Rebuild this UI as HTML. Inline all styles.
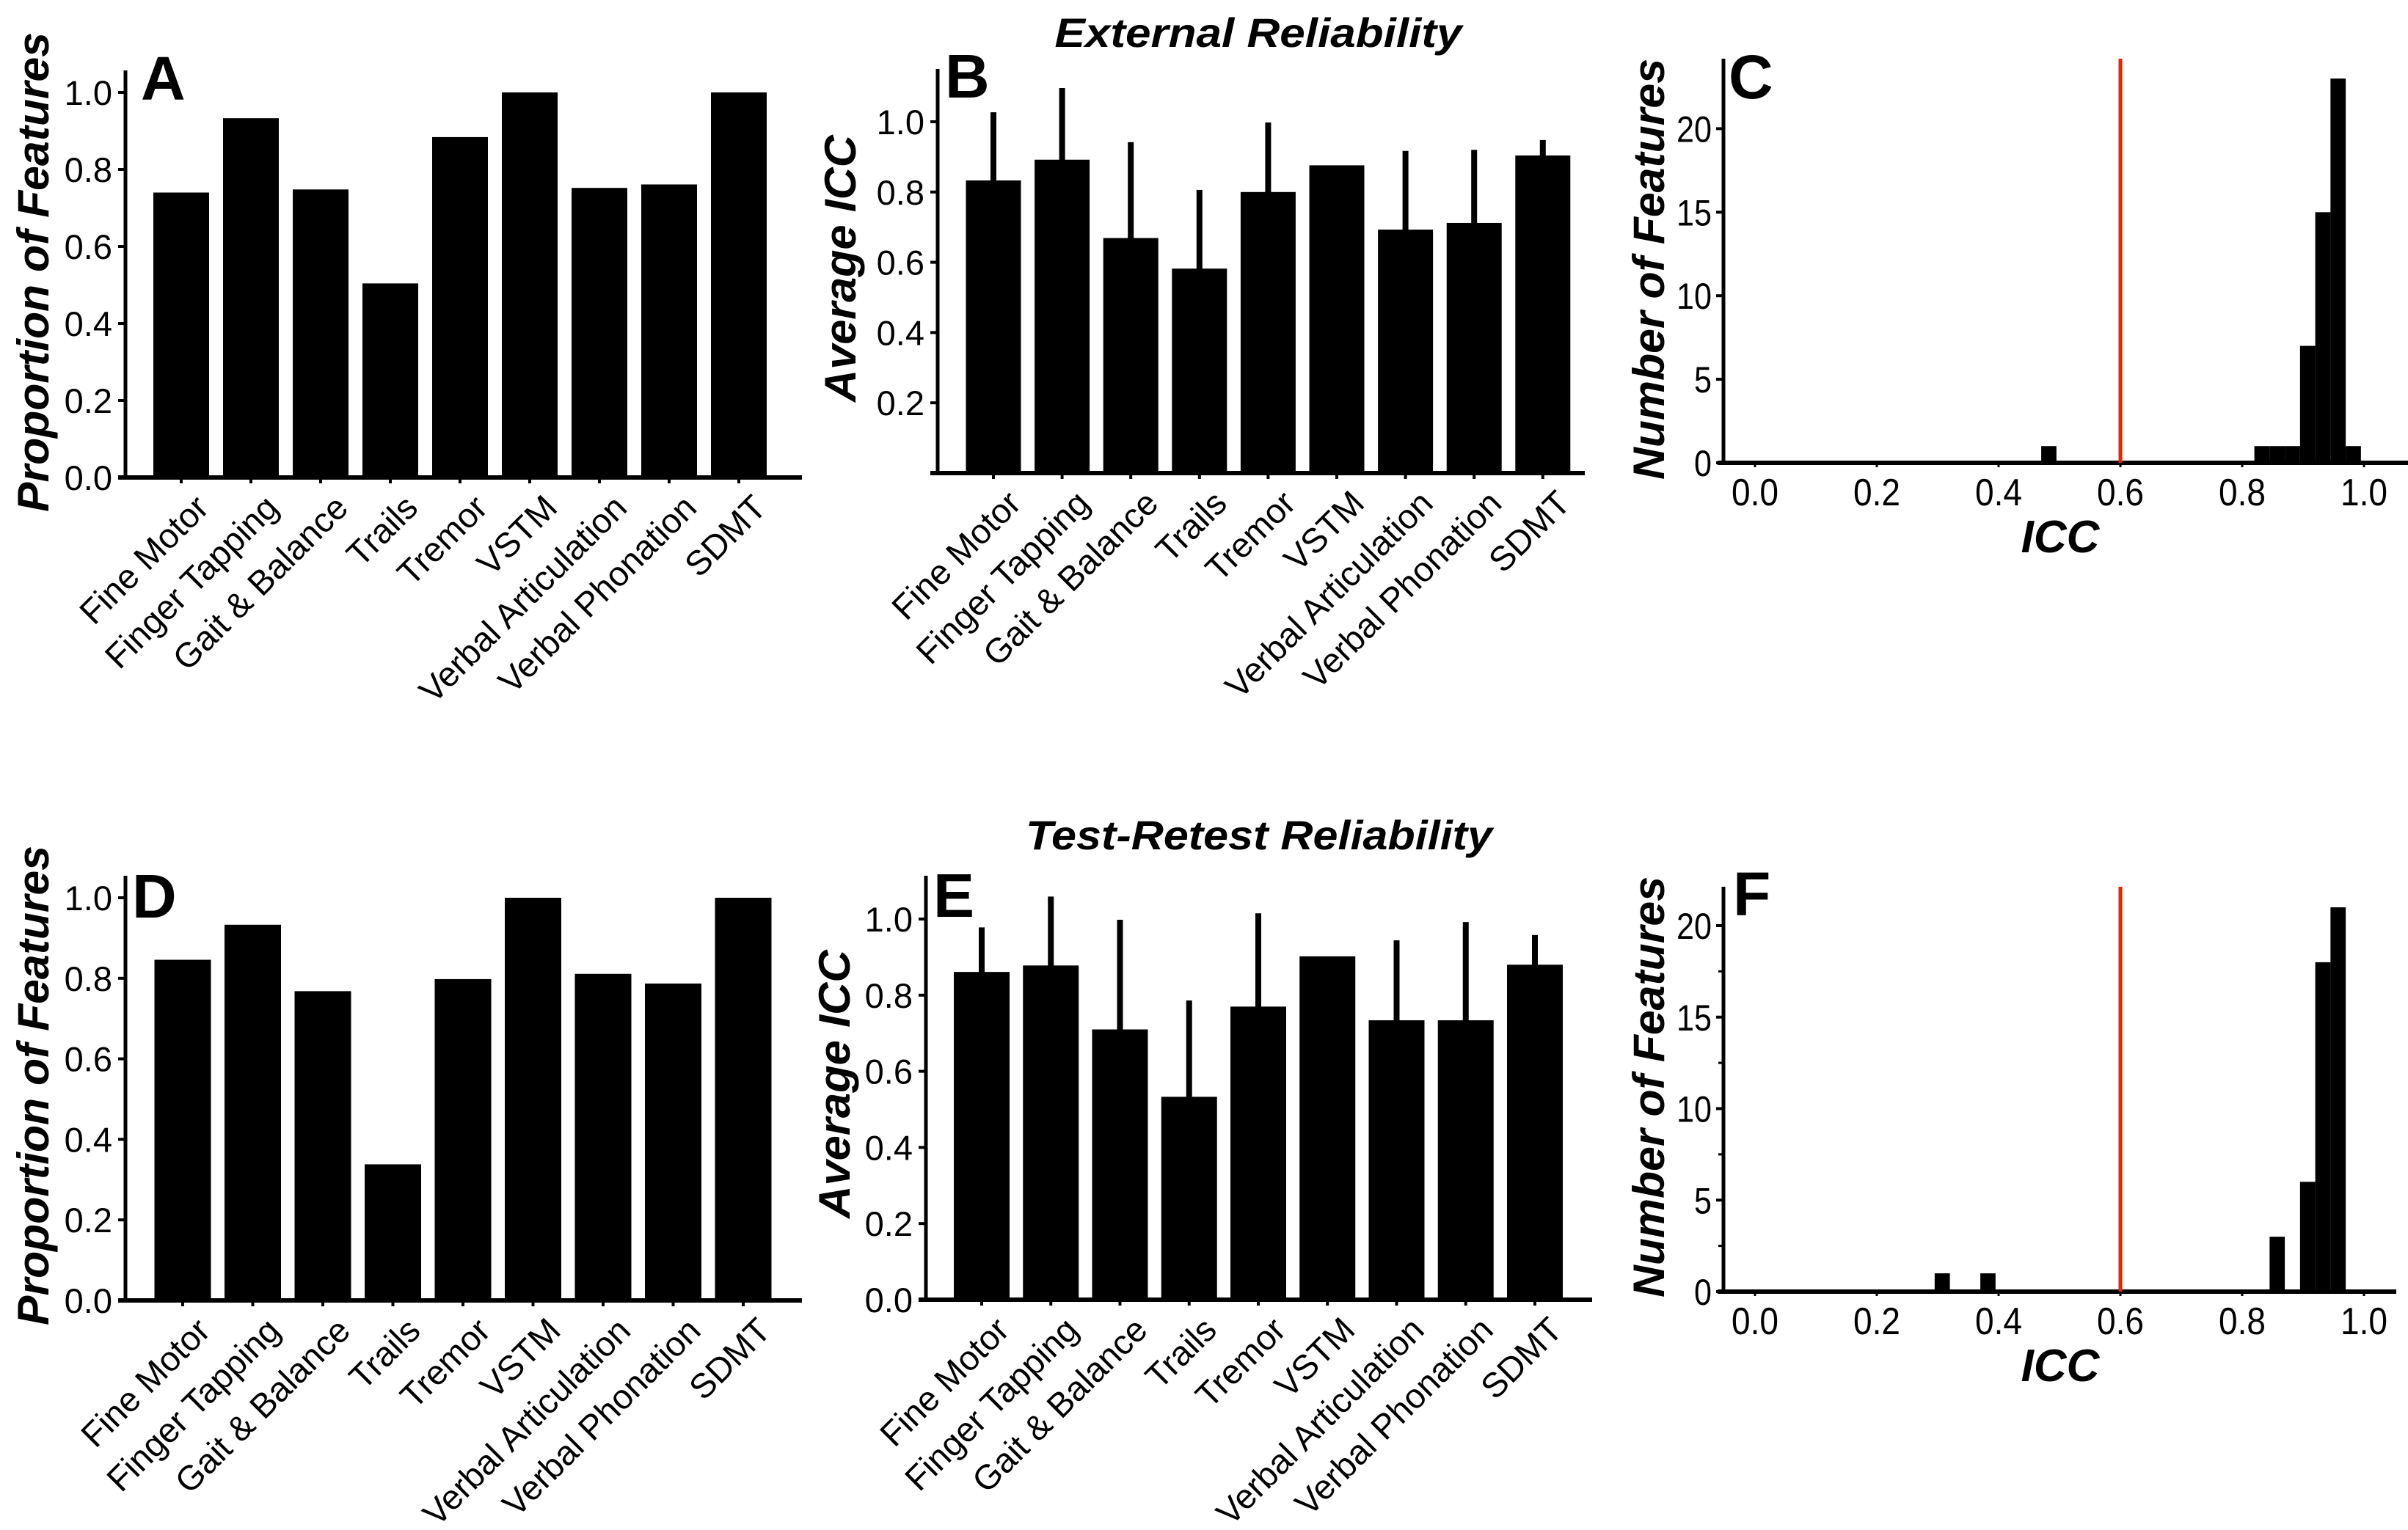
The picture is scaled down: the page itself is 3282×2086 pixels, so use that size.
<!DOCTYPE html>
<html><head><meta charset="utf-8"><style>
html,body{margin:0;padding:0;background:#fff;}
svg{display:block;font-family:"Liberation Sans",Arial,sans-serif;}
</style></head><body>
<svg id="fig" width="3282" height="2086" viewBox="0 0 3282 2086" xmlns="http://www.w3.org/2000/svg">
<rect width="3282" height="2086" fill="#fff"/>
<text x="1715" y="64" text-anchor="middle" font-size="56" font-weight="bold" font-style="italic" textLength="555" lengthAdjust="spacingAndGlyphs">External Reliability</text>
<text x="1716" y="1158" text-anchor="middle" font-size="56" font-weight="bold" font-style="italic" textLength="636" lengthAdjust="spacingAndGlyphs">Test-Retest Reliability</text>
</svg>
<script>
const categories = ["Fine Motor","Finger Tapping","Gait & Balance","Trails","Tremor","VSTM","Verbal Articulation","Verbal Phonation","SDMT"];
const propExternal = [0.74,0.933,0.748,0.504,0.884,1.0,0.752,0.761,1.0];
const iccExternal = [0.833,0.892,0.669,0.582,0.800,0.876,0.693,0.712,0.904];
const iccExternalErr = [1.027,1.096,0.942,0.806,0.998,null,0.917,0.920,0.948];
const propRetest = [0.846,0.933,0.768,0.338,0.798,1.0,0.811,0.787,1.0];
const iccRetest = [0.861,0.878,0.710,0.533,0.770,0.902,0.734,0.734,0.880];
const iccRetestErr = [0.978,1.059,0.998,0.786,1.015,null,0.944,0.992,0.958];
const ticksProp = ["0.0","0.2","0.4","0.6","0.8","1.0"];
const ticksIccB = ["0.2","0.4","0.6","0.8","1.0"];
const ticksIccE = ["0.0","0.2","0.4","0.6","0.8","1.0"];
const histBinLeftC = [0.47,0.82,0.845,0.87,0.895,0.92,0.945,0.97];
const histCountC = [1,1,1,1,7,15,23,1];
const histBinLeftF = [0.295,0.37,0.845,0.895,0.92,0.945];
const histCountF = [1,1,3,6,18,21];
const histBinWidth = 0.025;
const histXTicks = ["0.0","0.2","0.4","0.6","0.8","1.0"];
const histYTicks = ["0","5","10","15","20"];
const thresholdICC = 0.6;

const NS = "http://www.w3.org/2000/svg";
const svg = document.getElementById("fig");
function mk(tag, attrs, parent) {
  const e = document.createElementNS(NS, tag);
  for (const k in attrs) e.setAttribute(k, attrs[k]);
  (parent || svg).appendChild(e);
  return e;
}
function txt(str, attrs, parent) { const t = mk("text", attrs, parent); t.textContent = str; return t; }

function barPanel(o) {
  const g = mk("g", {});
  
  
  const y = v => o.base - v * o.unit;
  const cx = i => o.firstCx + i * o.step;
  const ya = mk("line", {x1:o.ax, y1:o.top, x2:o.ax, y2:o.base+2, stroke:"#000","stroke-width":5}, g);
  
  
  const xa = mk("line", {x1:o.ax-10, y1:o.base, x2:o.axEnd, y2:o.base, stroke:"#000","stroke-width":6}, g);
  
  
  o.ticks.forEach(t => {
    const v = parseFloat(t);
    mk("line", {x1:o.ax-10, y1:y(v), x2:o.ax, y2:y(v), stroke:"#000","stroke-width":4}, g);
    const l = txt(t, {x:o.ax-18, y:y(v)+17, "text-anchor":"end","font-size":47}, g);
    
    
  });
  o.values.forEach((v, i) => {
    const x = cx(i);
    if (o.errs && o.errs[i] != null) {
      const e = mk("rect", {x:x-4, y:y(o.errs[i]), width:8, height:y(v)-y(o.errs[i])+2, fill:"#000"}, g);
      
      
    }
    const b = mk("rect", {x:x-o.bw/2, y:y(v), width:o.bw, height:o.base-y(v), fill:"#000"}, g);
    
    
    mk("line", {x1:x, y1:o.base, x2:x, y2:o.base+8, stroke:"#000","stroke-width":4}, g);
    const l = txt(categories[i], {x:0, y:0, "text-anchor":"end","font-size":47,
      transform:`translate(${x+40},${o.base+44}) rotate(-45)`}, g);
    
    
  });
  const lt = txt(o.letter, {x:o.lx, y:o.ly, "font-size":84, "font-weight":"bold"}, g);
  
  
  const yl = txt(o.ylabel, {x:0, y:0, "text-anchor":"middle","font-size":60,"font-weight":"bold","font-style":"italic",
    textLength:o.ylen, lengthAdjust:"spacingAndGlyphs", transform:`translate(${o.ylx},${o.yly}) rotate(-90)`}, g);
  
  
}

function histPanel(o) {
  const g = mk("g", {});
  
  
  const x = v => o.x0 + v * (o.x1 - o.x0);
  const y = c => o.base - c * o.perCount;
  const ya = mk("line", {x1:o.ax, y1:o.top, x2:o.ax, y2:o.base+2, stroke:"#000","stroke-width":5}, g);
  
  
  const xa = mk("line", {x1:o.ax-8, y1:o.base, x2:o.axEnd, y2:o.base, stroke:"#000","stroke-width":6}, g);
  
  
  histYTicks.forEach(t => {
    const c = parseFloat(t);
    mk("line", {x1:o.ax-10, y1:y(c), x2:o.ax, y2:y(c), stroke:"#000","stroke-width":4}, g);
    const l = txt(t, {x:o.ax-16, y:y(c)+18, "text-anchor":"end","font-size":50,
      textLength:(t.length*24), lengthAdjust:"spacingAndGlyphs"}, g);
    
    
  });
  if (o.minor) {
    for (let c = 2.5; c < 22; c += 5) mk("line", {x1:o.ax-7, y1:y(c), x2:o.ax, y2:y(c), stroke:"#000","stroke-width":3}, g);
  }
  histXTicks.forEach(t => {
    const v = parseFloat(t);
    mk("line", {x1:x(v), y1:o.base, x2:x(v), y2:o.base+6, stroke:"#000","stroke-width":3}, g);
    const l = txt(t, {x:x(v), y:o.base+58, "text-anchor":"middle","font-size":52,
      textLength:64, lengthAdjust:"spacingAndGlyphs"}, g);
    
    
  });
  o.lefts.forEach((lv, i) => {
    const b = mk("rect", {x:x(lv), y:y(o.counts[i]), width:x(lv+histBinWidth)-x(lv), height:o.base-y(o.counts[i]), fill:"#000"}, g);
    
    
  });
  const rl = mk("line", {x1:x(thresholdICC), y1:o.top, x2:x(thresholdICC), y2:o.base, stroke:"#ee2200","stroke-width":5}, g);
  
  
  const lt = txt(o.letter, {x:o.lx, y:o.ly, "font-size":84, "font-weight":"bold"}, g);
  
  
  const xl = txt("ICC", {x:2808, y:o.base+122, "text-anchor":"middle","font-size":62,"font-weight":"bold","font-style":"italic"}, g);
  
  
  const yl = txt("Number of Features", {x:0, y:0, "text-anchor":"middle","font-size":60,"font-weight":"bold","font-style":"italic",
    textLength:574, lengthAdjust:"spacingAndGlyphs", transform:`translate(2268,${o.yly}) rotate(-90)`}, g);
  
  
}

barPanel({name:"panel-a", values:propExternal, ticks:ticksProp, ax:171, axEnd:1093, base:651, unit:525, top:96,
  firstCx:247, step:95, bw:76, letter:"A", lx:192, ly:136, ylabel:"Proportion of Features", ylen:654, ylx:66, yly:371});
barPanel({name:"panel-b", values:iccExternal, errs:iccExternalErr, ticks:ticksIccB, ax:1278, axEnd:2160, base:645, unit:479, top:94,
  firstCx:1354, step:93.6, bw:75, letter:"B", lx:1288, ly:133, ylabel:"Average ICC", ylen:364, ylx:1166, yly:366});
histPanel({name:"panel-c", lefts:histBinLeftC, counts:histCountC, ax:2349, axEnd:3282, base:631, perCount:22.78, top:80,
  x0:2392, x1:3222, minor:false, letter:"C", lx:2356, ly:134, yly:367});
barPanel({name:"panel-d", values:propRetest, ticks:ticksProp, ax:171, axEnd:1093, base:1773, unit:549, top:1194,
  firstCx:249, step:95.5, bw:77, letter:"D", lx:180, ly:1251, ylabel:"Proportion of Features", ylen:654, ylx:66, yly:1480});
barPanel({name:"panel-e", values:iccRetest, errs:iccRetestErr, ticks:ticksIccE, ax:1262, axEnd:2170, base:1772, unit:519, top:1194,
  firstCx:1338, step:94.25, bw:76, letter:"E", lx:1272, ly:1250, ylabel:"Average ICC", ylen:366, ylx:1158, yly:1478});
histPanel({name:"panel-f", lefts:histBinLeftF, counts:histCountF, ax:2349, axEnd:3266, base:1761, perCount:24.95, top:1209,
  x0:2392, x1:3222, minor:true, letter:"F", lx:2362, ly:1248, yly:1482});
</script>
</body></html>
